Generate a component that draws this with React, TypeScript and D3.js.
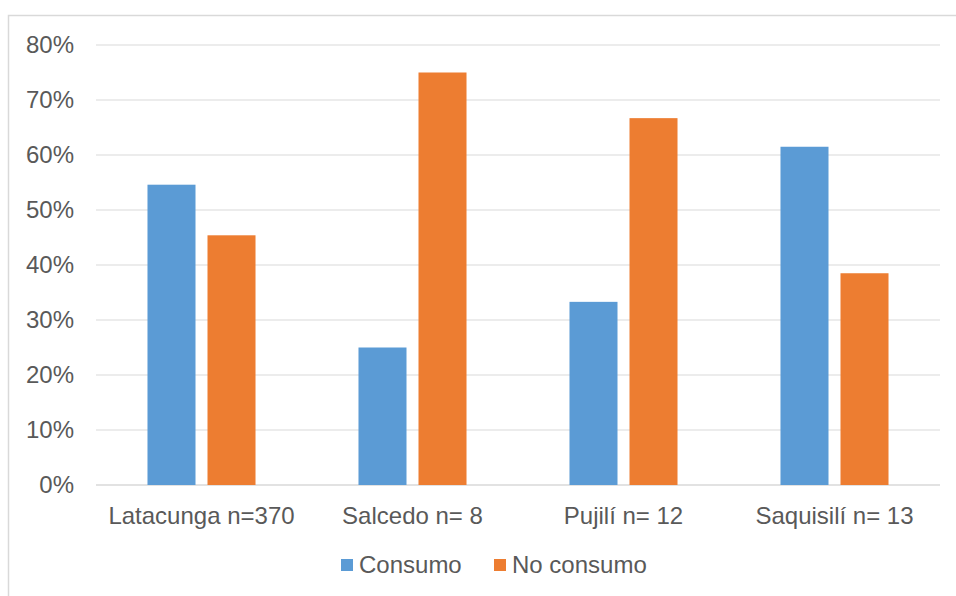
import React from "react";
import * as d3 from "d3";

const categories = ["Latacunga n=370", "Salcedo n= 8", "Pujilí n= 12", "Saquisilí n= 13"];
const seriesNames = ["Consumo", "No consumo"];
const consumo = [0.546, 0.25, 0.333, 0.615];
const noConsumo = [0.454, 0.75, 0.667, 0.385];
const yTicks = [0, 0.1, 0.2, 0.3, 0.4, 0.5, 0.6, 0.7, 0.8];
const colors = ["#5B9BD5", "#ED7D31"];

const W = 956, H = 596;
const left = 96, right = 940, top = 45, bottom = 485;
const font = "'Liberation Sans', Arial, sans-serif";
const textColor = "#595959";

export default function App() {
  const x = d3.scaleBand<string>().domain(categories).range([left, right]).paddingInner(0).paddingOuter(0);
  const y = d3.scaleLinear().domain([0, 0.8]).range([bottom, top]);
  const inner = d3.scaleBand<string>().domain(seriesNames).range([0, x.bandwidth()]).paddingInner(0.2).paddingOuter(0.858);
  const series = [consumo, noConsumo];
  const fmt = d3.format(".0%");
  return (
    <svg width={W} height={H} style={{ position: "absolute", left: 0, top: 0 }} fontFamily={font}>
      <rect x={0} y={0} width={W} height={H} fill="#fff" />
      <rect x={8.5} y={15.5} width={W + 20} height={H + 20} fill="none" stroke="#d9d9d9" strokeWidth={1.5} />
      {yTicks.map((t) => (
        <g key={t}>
          <line x1={left} x2={right} y1={y(t)} y2={y(t)} stroke="#d9d9d9" strokeWidth={t === 0 ? 1.5 : 1} />
          <text x={74} y={y(t)} dy="0.35em" textAnchor="end" fontSize={24} fill={textColor}>{fmt(t)}</text>
        </g>
      ))}
      {categories.map((c, i) => (
        <g key={c}>
          {seriesNames.map((s, j) => (
            <rect key={s} x={(x(c) as number) + (inner(s) as number)} y={y(series[j][i])}
              width={inner.bandwidth()} height={y(0) - y(series[j][i])} fill={colors[j]} />
          ))}
          <text x={(x(c) as number) + x.bandwidth() / 2} y={524} textAnchor="middle" fontSize={24} fill={textColor}>{c}</text>
        </g>
      ))}
      {seriesNames.map((s, j) => {
        const lx = j === 0 ? 341 : 494;
        return (
          <g key={s}>
            <rect x={lx} y={559} width={12} height={12} fill={colors[j]} />
            <text x={lx + 18} y={565} dy="0.35em" fontSize={24} fill={textColor}>{s}</text>
          </g>
        );
      })}
    </svg>
  );
}
